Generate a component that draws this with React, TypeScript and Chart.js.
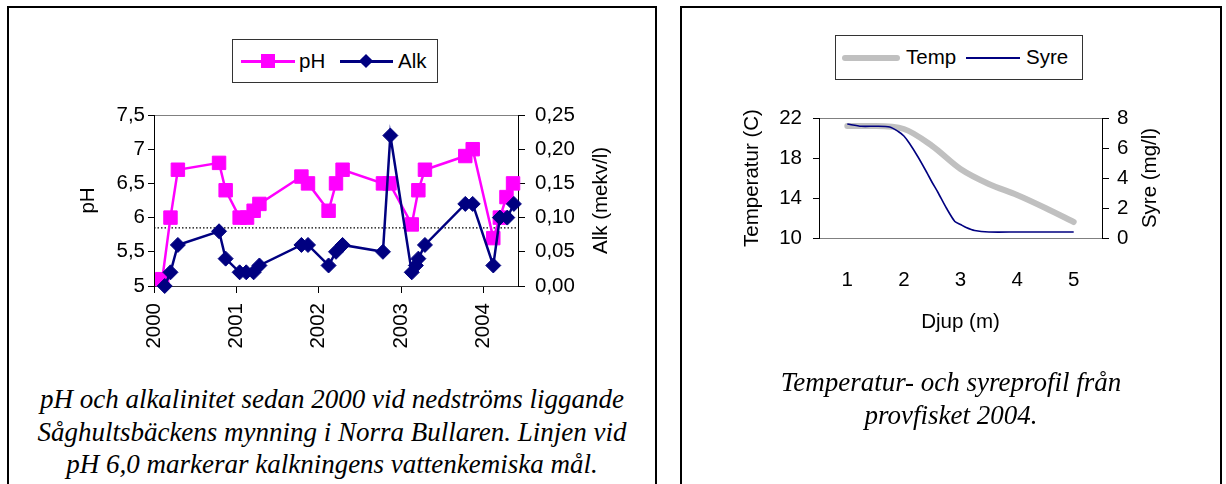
import React, { useEffect, useRef } from "react";
import { Chart, registerables } from "chart.js";

Chart.register(...registerables);

// ---------- Left chart data (pH and alkalinity) ----------
const yearTicks = [2000, 2001, 2002, 2003, 2004];
const phTicks = [5, 5.5, 6, 6.5, 7, 7.5];
const alkTicks = [0, 0.05, 0.1, 0.15, 0.2, 0.25];

const phDates = [
  2000.1, 2000.2, 2000.29, 2000.79, 2000.87, 2001.04, 2001.13, 2001.21, 2001.28,
  2001.79, 2001.87, 2002.12, 2002.21, 2002.29, 2002.78, 2002.86, 2003.13, 2003.21,
  2003.29, 2003.78, 2003.87, 2004.12, 2004.2, 2004.28, 2004.36,
];
const phValues = [
  5.1, 6.0, 6.7, 6.8, 6.4, 6.0, 6.0, 6.1, 6.2, 6.6, 6.5, 6.1, 6.5, 6.7, 6.5, 6.5, 5.9,
  6.4, 6.7, 6.9, 7.0, 5.7, 6.0, 6.3, 6.5,
];

const alkDates = [
  2000.13, 2000.2, 2000.29, 2000.79, 2000.87, 2001.04, 2001.12, 2001.21, 2001.28,
  2001.79, 2001.87, 2002.12, 2002.21, 2002.29, 2002.78, 2002.87, 2003.13, 2003.18,
  2003.21, 2003.29, 2003.78, 2003.87, 2004.12, 2004.2, 2004.29, 2004.37,
];
const alkValues = [
  0.0, 0.02, 0.06, 0.08, 0.04, 0.02, 0.02, 0.02, 0.03, 0.06, 0.06, 0.03, 0.05, 0.06,
  0.05, 0.22, 0.02, 0.03, 0.04, 0.06, 0.12, 0.12, 0.03, 0.1, 0.1, 0.12,
];

const goalDates = [2000, 2004.42];
const goalValues = [5.85, 5.85];

// ---------- Right chart data (temperature and oxygen profile) ----------
const depthTicks = [1, 2, 3, 4, 5];
const tempTicks = [10, 14, 18, 22];
const syreTicks = [0, 2, 4, 6, 8];

const tempDepths = [1, 1.5, 2, 2.5, 3, 3.5, 4, 4.5, 5];
const tempValues = [21.2, 21.2, 20.9, 19.2, 16.9, 15.4, 14.3, 13.0, 11.6];

const syreDepths = [
  1.0, 1.25, 1.5, 1.75, 1.9, 2.0, 2.1, 2.25, 2.4, 2.5, 2.6, 2.75, 2.9, 3.0, 3.1, 3.25,
  3.5, 4.0, 4.5, 5.0,
];
const syreValues = [
  7.6, 7.45, 7.45, 7.4, 7.1, 6.8, 6.3, 5.4, 4.4, 3.7, 3.05, 2.0, 1.1, 0.9, 0.7, 0.5,
  0.4, 0.4, 0.4, 0.4,
];

// ---------- helpers ----------
const FONT = '"Liberation Sans", Arial, sans-serif';
const SERIF = '"Liberation Serif", "Times New Roman", serif';
const FS = 20.5;

const pts = (xs: number[], ys: number[]) => xs.map((x, i) => ({ x, y: ys[i] }));
const fixedTicks = (values: number[]) => (scale: any) => {
  scale.ticks = values.map((v) => ({ value: v }));
};
const commaNum = (v: number, digits?: number) =>
  (digits === undefined ? String(Number(v.toFixed(4))) : v.toFixed(digits)).replace(".", ",");

function framePlugin(color: string) {
  return {
    id: "plotFrame",
    beforeDraw(chart: any) {
      const { ctx, chartArea: a } = chart;
      ctx.save();
      ctx.strokeStyle = color;
      ctx.lineWidth = 1;
      ctx.strokeRect(Math.round(a.left) + 0.5, Math.round(a.top) + 0.5, Math.round(a.right - a.left), Math.round(a.bottom - a.top));
      ctx.restore();
    },
  };
}

type TitleItem = { text: string; side: "left" | "right" | "bottom"; offset: number };
function titlesPlugin(items: TitleItem[]) {
  return {
    id: "axisTitles",
    afterDraw(chart: any) {
      const { ctx, chartArea: a } = chart;
      const cx = (a.left + a.right) / 2;
      const cy = (a.top + a.bottom) / 2;
      ctx.save();
      ctx.font = `${FS}px ${FONT}`;
      ctx.fillStyle = "#000";
      ctx.textAlign = "center";
      ctx.textBaseline = "middle";
      items.forEach((it) => {
        let x = cx;
        let y = cy;
        if (it.side === "left") x = a.left + it.offset;
        else if (it.side === "right") x = a.right + it.offset;
        else y = a.bottom + it.offset;
        ctx.save();
        ctx.translate(x, y);
        if (it.side !== "bottom") ctx.rotate(-Math.PI / 2);
        ctx.fillText(it.text, 0, 0);
        ctx.restore();
      });
      ctx.restore();
    },
  };
}

const tickFont = { family: FONT, size: FS };

function leftConfig(): any {
  return {
    type: "line",
    data: {
      datasets: [
        {
          label: "Alk",
          data: pts(alkDates, alkValues),
          yAxisID: "y2",
          borderColor: "#000080",
          backgroundColor: "#000080",
          borderWidth: 2.5,
          pointStyle: "rectRot",
          pointRadius: 7.5,
          pointBorderWidth: 1,
          tension: 0,
          clip: false,
        },
        {
          label: "pH",
          data: pts(phDates, phValues),
          yAxisID: "y",
          borderColor: "#FF00FF",
          backgroundColor: "#FF00FF",
          borderWidth: 2.5,
          pointStyle: "rect",
          pointRadius: 9.5,
          pointBorderWidth: 1,
          tension: 0,
          clip: false,
        },
        {
          label: "mål",
          data: pts(goalDates, goalValues),
          yAxisID: "y",
          borderColor: "#000",
          borderWidth: 1.3,
          borderDash: [1.5, 2],
          pointRadius: 0,
          tension: 0,
        },
      ],
    },
    options: {
      responsive: false,
      animation: false,
      events: [],
      layout: { padding: { top: 25, left: 0, right: 0, bottom: 0 } },
      plugins: { legend: { display: false }, tooltip: { enabled: false } },
      scales: {
        x: {
          type: "linear",
          min: 2000,
          max: 2004.42,
          afterBuildTicks: fixedTicks(yearTicks),
          afterFit: (s: any) => {
            s.height = 94;
          },
          grid: { drawOnChartArea: false, tickLength: 7, color: "#000" },
          border: { color: "#333", width: 1 },
          ticks: {
            autoSkip: false,
            minRotation: 90,
            maxRotation: 90,
            padding: 10,
            color: "#000",
            font: tickFont,
            callback: (v: number) => String(v),
          },
        },
        y: {
          position: "left",
          min: 5,
          max: 7.5,
          afterBuildTicks: fixedTicks(phTicks),
          afterFit: (s: any) => {
            s.width = 145;
          },
          grid: { drawOnChartArea: false, tickLength: 6, color: "#000" },
          border: { color: "#000", width: 1 },
          ticks: { padding: 3, color: "#000", font: tickFont, callback: (v: number) => commaNum(v) },
        },
        y2: {
          position: "right",
          min: 0,
          max: 0.25,
          afterBuildTicks: fixedTicks(alkTicks),
          afterFit: (s: any) => {
            s.width = 137;
          },
          grid: { drawOnChartArea: false, tickLength: 7, color: "#000" },
          border: { color: "#000", width: 1 },
          ticks: { padding: 10, color: "#000", font: tickFont, callback: (v: number) => commaNum(v, 2) },
        },
      },
    },
    plugins: [
      framePlugin("#808080"),
      titlesPlugin([
        { text: "pH", side: "left", offset: -66 },
        { text: "Alk (mekv/l)", side: "right", offset: 83 },
      ]),
    ],
  };
}

function rightConfig(): any {
  return {
    type: "line",
    data: {
      datasets: [
        {
          label: "Syre",
          data: pts(syreDepths, syreValues),
          yAxisID: "y2",
          borderColor: "#000080",
          borderWidth: 1.6,
          pointRadius: 0,
          tension: 0.25,
        },
        {
          label: "Temp",
          data: pts(tempDepths, tempValues),
          yAxisID: "y",
          borderColor: "#C0C0C0",
          borderWidth: 6,
          borderCapStyle: "round",
          borderJoinStyle: "round",
          pointRadius: 0,
          cubicInterpolationMode: "monotone",
        },
      ],
    },
    options: {
      responsive: false,
      animation: false,
      events: [],
      layout: { padding: { top: 28, left: 0, right: 0, bottom: 0 } },
      plugins: { legend: { display: false }, tooltip: { enabled: false } },
      scales: {
        x: {
          type: "linear",
          min: 0.5,
          max: 5.5,
          afterBuildTicks: fixedTicks(depthTicks),
          afterFit: (s: any) => {
            s.height = 142;
          },
          grid: { display: false },
          border: { color: "#808080", width: 1 },
          ticks: {
            autoSkip: false,
            maxRotation: 0,
            padding: 22,
            color: "#000",
            font: tickFont,
            callback: (v: number) => String(v),
          },
        },
        y: {
          position: "left",
          min: 10,
          max: 22,
          afterBuildTicks: fixedTicks(tempTicks),
          afterFit: (s: any) => {
            s.width = 137;
          },
          grid: { drawOnChartArea: false, tickLength: 6, color: "#000" },
          border: { color: "#000", width: 1 },
          ticks: { padding: 11, color: "#000", font: tickFont, callback: (v: number) => String(v) },
        },
        y2: {
          position: "right",
          min: 0,
          max: 8,
          afterBuildTicks: fixedTicks(syreTicks),
          afterFit: (s: any) => {
            s.width = 118;
          },
          grid: { drawOnChartArea: false, tickLength: 7, color: "#000" },
          border: { color: "#000", width: 1 },
          ticks: { padding: 8, color: "#000", font: tickFont, callback: (v: number) => String(v) },
        },
      },
    },
    plugins: [
      framePlugin("#808080"),
      titlesPlugin([
        { text: "Temperatur (C)", side: "left", offset: -67 },
        { text: "Syre (mg/l)", side: "right", offset: 48 },
        { text: "Djup (m)", side: "bottom", offset: 84 },
      ]),
    ],
  };
}

function ChartCanvas(props: { make: () => any; left: number; top: number; width: number; height: number }) {
  const ref = useRef<HTMLCanvasElement | null>(null);
  useEffect(() => {
    if (!ref.current) return;
    const chart = new Chart(ref.current, props.make());
    return () => chart.destroy();
  }, []);
  return (
    <canvas
      ref={ref}
      width={props.width}
      height={props.height}
      style={{ position: "absolute", left: props.left, top: props.top, width: props.width, height: props.height }}
    />
  );
}

const abs = (s: any) => ({ position: "absolute" as const, ...s });
const legendText = (left: number): any => ({
  position: "absolute",
  left,
  top: 0,
  bottom: 0,
  display: "flex",
  alignItems: "center",
  fontFamily: FONT,
  fontSize: FS,
  color: "#000",
  lineHeight: 1,
  whiteSpace: "nowrap",
});

export default function App() {
  return (
    <div
      style={{
        position: "fixed",
        left: 0,
        top: 0,
        width: 1226,
        height: 484,
        overflow: "hidden",
        background: "#fff",
      }}
    >
      {/* panel frames */}
      <div style={abs({ left: 7, top: 6, width: 650, height: 540, border: "2px solid #000", boxSizing: "border-box" })} />
      <div style={abs({ left: 680, top: 6, width: 542, height: 540, border: "2px solid #000", boxSizing: "border-box" })} />

      {/* left legend */}
      <div style={abs({ left: 232, top: 39, width: 206, height: 44, border: "1px solid #333", boxSizing: "border-box", background: "#fff" })}>
        <div style={abs({ left: 8, top: 19.5, width: 54, height: 3, background: "#FF00FF" })} />
        <div style={abs({ left: 28, top: 14, width: 14, height: 14, background: "#FF00FF" })} />
        <div style={legendText(66)}>pH</div>
        <div style={abs({ left: 107, top: 19.5, width: 53, height: 3, background: "#000080" })} />
        <div style={abs({ left: 128, top: 16, width: 10, height: 10, background: "#000080", transform: "rotate(45deg)" })} />
        <div style={legendText(165)}>Alk</div>
      </div>

      {/* right legend */}
      <div style={abs({ left: 835, top: 35, width: 248, height: 45, border: "1px solid #333", boxSizing: "border-box", background: "#fff" })}>
        <div style={abs({ left: 6, top: 19, width: 58, height: 6, borderRadius: 3, background: "#C0C0C0" })} />
        <div style={legendText(70)}>Temp</div>
        <div style={abs({ left: 130, top: 21, width: 54, height: 2, background: "#000080" })} />
        <div style={legendText(190)}>Syre</div>
      </div>

      <ChartCanvas make={leftConfig} left={9} top={90} width={646} height={290} />
      <ChartCanvas make={rightConfig} left={682} top={90} width={538} height={290} />

      {/* captions */}
      <div
        style={abs({
          left: 7,
          width: 650,
          top: 383,
          textAlign: "center",
          fontFamily: SERIF,
          fontStyle: "italic",
          fontSize: 27,
          lineHeight: "32.5px",
          color: "#000",
        })}
      >
        pH och alkalinitet sedan 2000 vid nedströms liggande
        <br />
        Såghultsbäckens mynning i Norra Bullaren. Linjen vid
        <br />
        pH 6,0 markerar kalkningens vattenkemiska mål.
      </div>
      <div
        style={abs({
          left: 680,
          width: 542,
          top: 366,
          textAlign: "center",
          fontFamily: SERIF,
          fontStyle: "italic",
          fontSize: 27,
          lineHeight: "32.5px",
          color: "#000",
        })}
      >
        Temperatur- och syreprofil från
        <br />
        provfisket 2004.
      </div>
    </div>
  );
}
